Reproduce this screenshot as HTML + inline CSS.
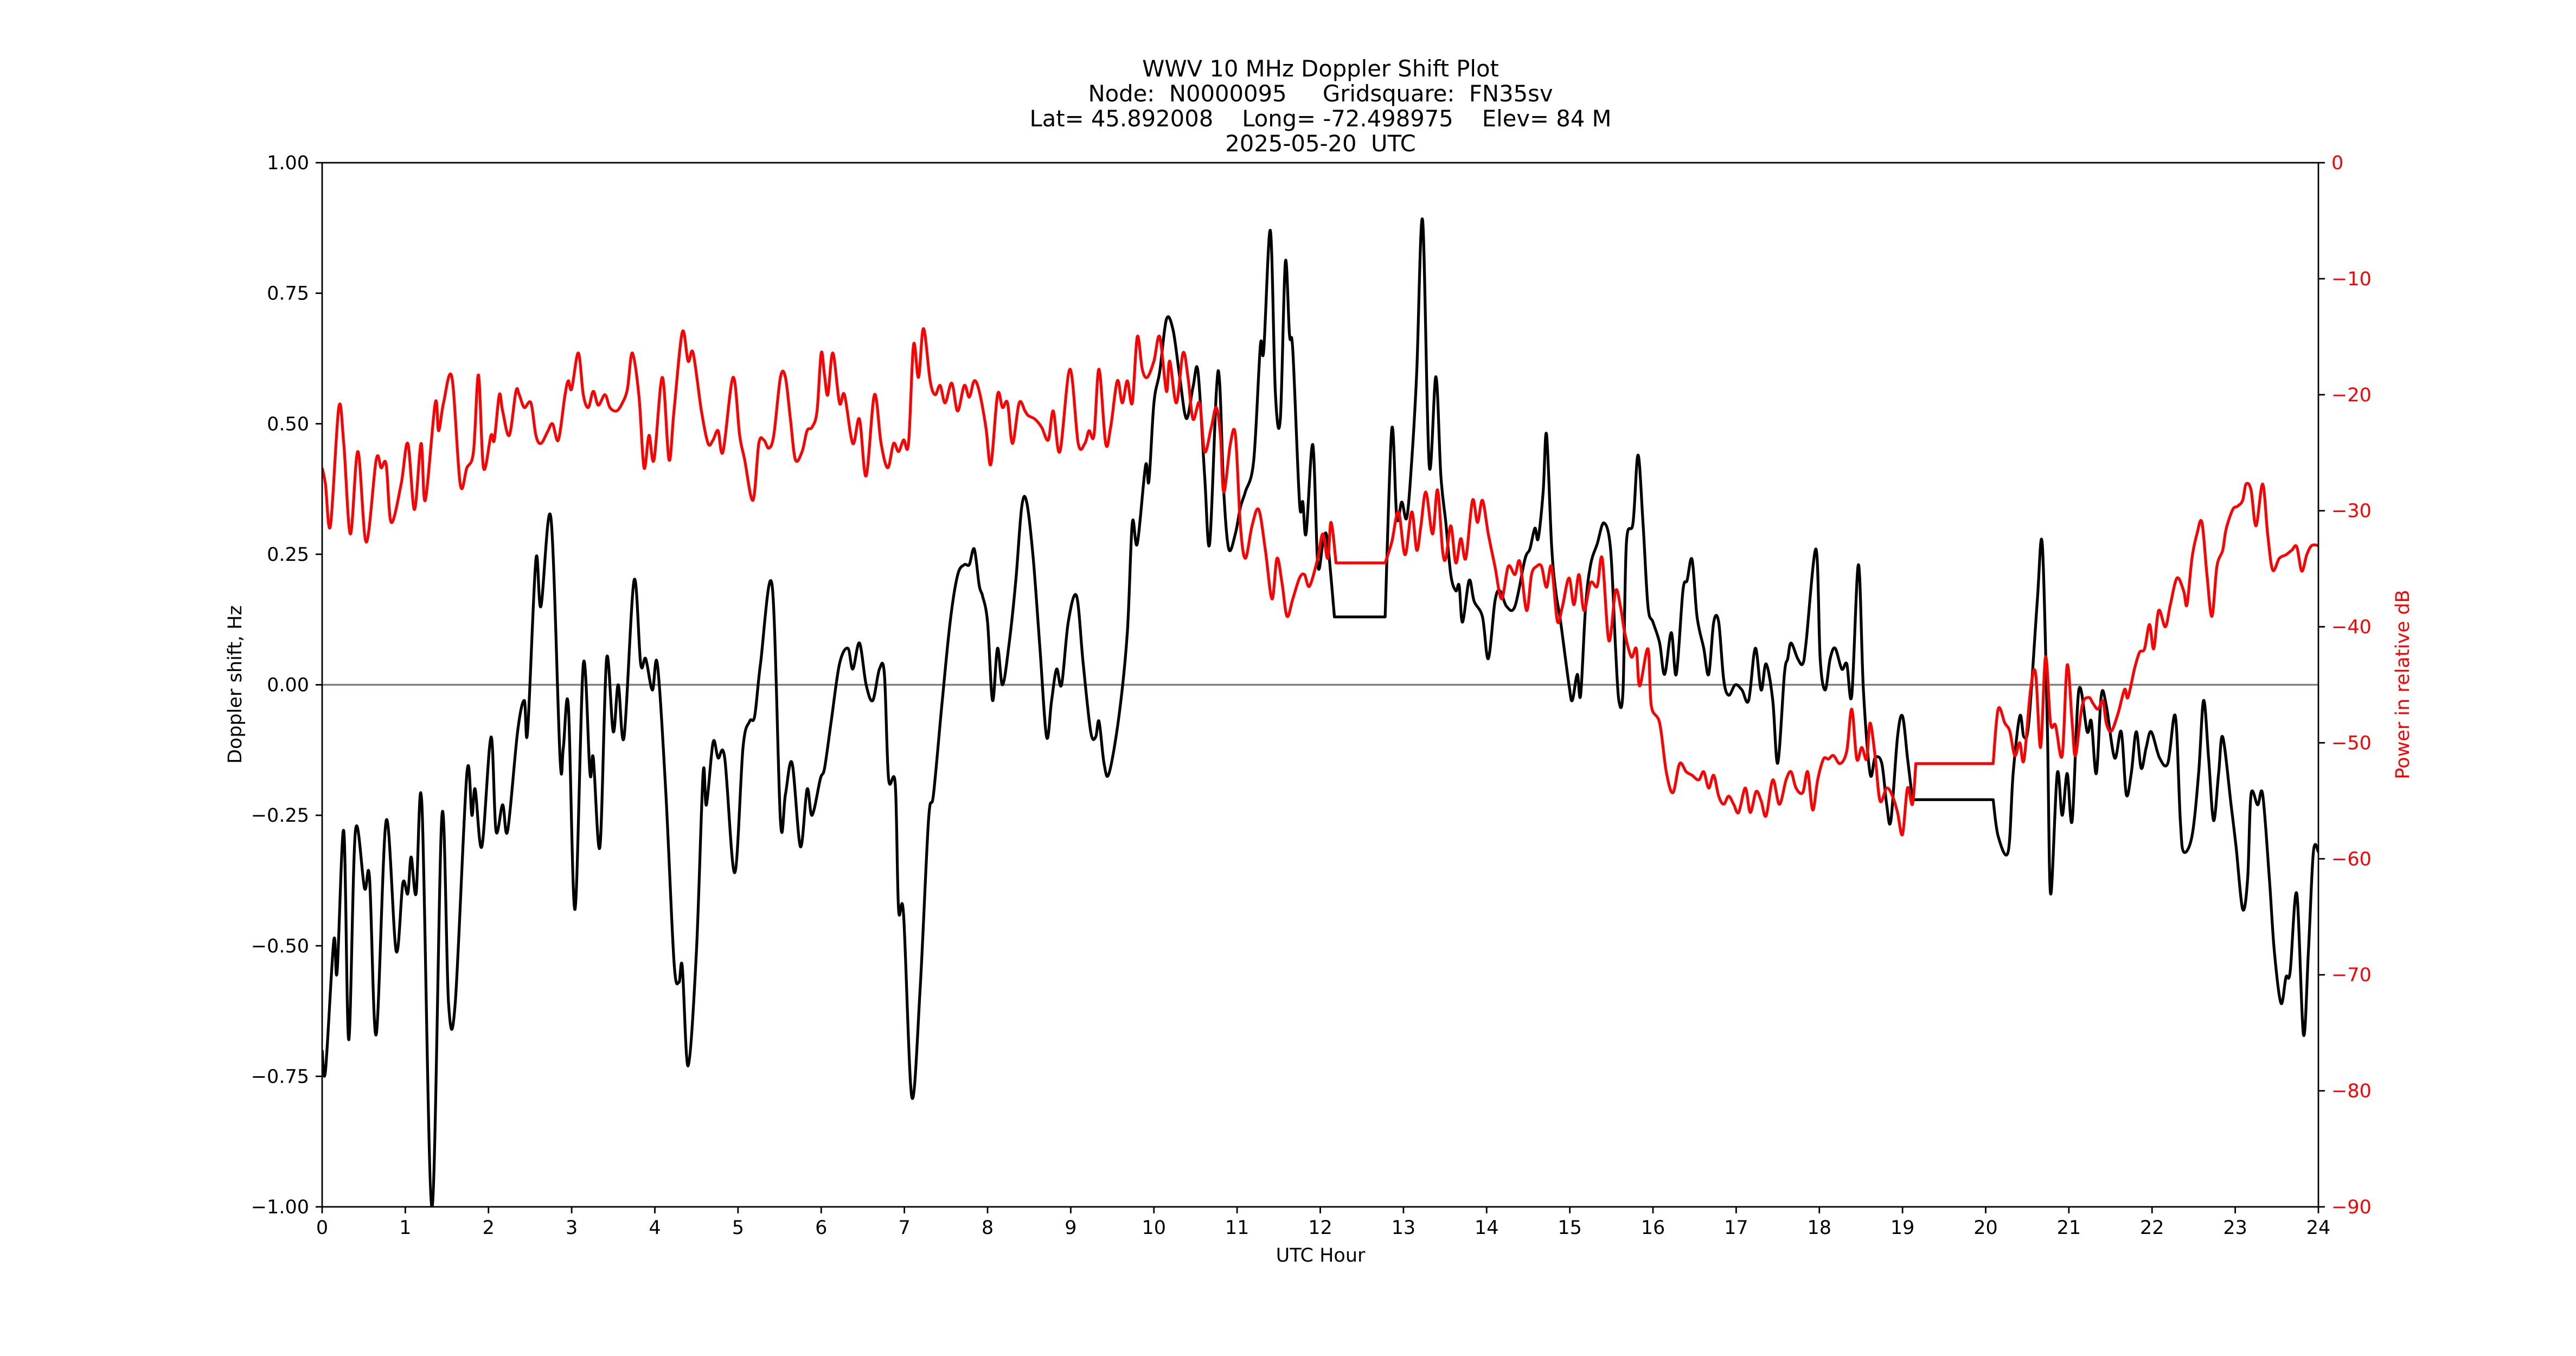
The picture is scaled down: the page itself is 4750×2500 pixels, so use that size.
<!DOCTYPE html>
<html><head><meta charset="utf-8"><style>
html,body{margin:0;padding:0;background:#fff;}
svg{display:block;font-family:"DejaVu Sans","Liberation Sans",sans-serif;}
</style></head><body>
<svg id="chart" xmlns="http://www.w3.org/2000/svg" width="4750" height="2500" viewBox="0 0 4750 2500">
<rect width="4750" height="2500" fill="#fff"/>
<g font-size="41.7" text-anchor="middle" style="white-space:pre">
<text x="2435" y="141">WWV 10 MHz Doppler Shift Plot</text>
<text x="2435" y="187" xml:space="preserve">Node:  N0000095     Gridsquare:  FN35sv</text>
<text x="2435" y="233" xml:space="preserve">Lat= 45.892008    Long= -72.498975    Elev= 84 M</text>
<text x="2435" y="279" xml:space="preserve">2025-05-20  UTC</text>
</g>
<defs><clipPath id="clip"><rect x="594" y="300" width="3681" height="1925"/></clipPath></defs>
<g id="zero"></g>
<g id="plot" clip-path="url(#clip)"></g>
<g id="axes"></g>
<text x="2435" y="2326" font-size="35" text-anchor="middle">UTC Hour</text>
<text transform="translate(445,1262) rotate(-90)" font-size="35" text-anchor="middle">Doppler shift, Hz</text>
<text transform="translate(4442,1262) rotate(-90)" font-size="35" text-anchor="middle" fill="#ff0000">Power in relative dB</text>
</svg>
<script>
const dopHours=[0.00,0.04,0.14,0.18,0.26,0.32,0.40,0.51,0.57,0.65,0.77,0.89,0.97,1.03,1.07,1.13,1.20,1.32,1.44,1.52,1.60,1.74,1.80,1.84,1.92,2.03,2.09,2.17,2.23,2.35,2.43,2.47,2.57,2.63,2.75,2.86,2.90,2.96,3.04,3.14,3.22,3.26,3.34,3.42,3.50,3.56,3.63,3.75,3.83,3.89,3.97,4.03,4.13,4.23,4.29,4.33,4.40,4.50,4.58,4.62,4.70,4.76,4.84,4.96,5.06,5.14,5.20,5.27,5.41,5.51,5.57,5.65,5.75,5.83,5.89,5.99,6.04,6.12,6.22,6.32,6.38,6.46,6.54,6.62,6.70,6.76,6.81,6.89,6.93,6.99,7.09,7.19,7.29,7.35,7.45,7.55,7.64,7.72,7.78,7.84,7.90,7.94,8.00,8.06,8.12,8.18,8.26,8.34,8.41,8.47,8.55,8.63,8.71,8.77,8.83,8.89,8.97,9.07,9.15,9.24,9.30,9.34,9.40,9.46,9.58,9.68,9.74,9.80,9.90,9.94,10.00,10.07,10.15,10.23,10.31,10.39,10.47,10.53,10.61,10.67,10.75,10.79,10.84,10.90,10.98,11.04,11.10,11.20,11.28,11.32,11.40,11.46,11.52,11.58,11.63,11.67,11.75,11.79,11.83,11.91,11.97,12.03,12.07,12.11,12.17,12.78,12.86,12.92,12.98,13.04,13.10,13.16,13.23,13.31,13.39,13.45,13.51,13.57,13.63,13.67,13.71,13.79,13.85,13.95,14.02,14.10,14.16,14.24,14.34,14.46,14.52,14.58,14.62,14.68,14.72,14.78,14.83,14.89,14.99,15.03,15.09,15.13,15.19,15.25,15.33,15.41,15.49,15.55,15.59,15.64,15.68,15.76,15.82,15.88,15.94,16.00,16.08,16.14,16.22,16.28,16.36,16.41,16.47,16.53,16.61,16.67,16.73,16.79,16.85,16.91,16.99,17.07,17.15,17.23,17.30,17.36,17.44,17.50,17.58,17.62,17.66,17.74,17.80,17.84,17.96,18.01,18.07,18.13,18.19,18.27,18.33,18.39,18.47,18.53,18.61,18.67,18.75,18.81,18.86,18.94,19.00,19.06,19.12,20.09,20.15,20.27,20.33,20.41,20.46,20.52,20.62,20.68,20.74,20.78,20.86,20.92,20.98,21.04,21.12,21.22,21.27,21.33,21.39,21.45,21.55,21.63,21.69,21.75,21.81,21.87,21.93,21.99,22.09,22.19,22.28,22.34,22.38,22.48,22.56,22.62,22.68,22.74,22.80,22.85,22.95,23.01,23.09,23.15,23.19,23.27,23.33,23.41,23.47,23.55,23.61,23.66,23.74,23.82,23.88,23.94,24.00];
const dopValues=[-0.70,-0.74,-0.49,-0.55,-0.28,-0.68,-0.28,-0.39,-0.37,-0.67,-0.26,-0.51,-0.38,-0.40,-0.33,-0.40,-0.23,-1.00,-0.25,-0.61,-0.61,-0.17,-0.25,-0.20,-0.31,-0.10,-0.28,-0.23,-0.28,-0.09,-0.03,-0.09,0.24,0.15,0.32,-0.14,-0.12,-0.04,-0.43,0.04,-0.17,-0.14,-0.31,0.05,-0.09,0.00,-0.10,0.20,0.04,0.05,-0.01,0.04,-0.20,-0.53,-0.57,-0.54,-0.73,-0.51,-0.17,-0.23,-0.11,-0.14,-0.14,-0.36,-0.12,-0.07,-0.06,0.04,0.19,-0.26,-0.21,-0.15,-0.31,-0.20,-0.25,-0.18,-0.16,-0.07,0.04,0.07,0.03,0.08,0.00,-0.03,0.03,0.02,-0.18,-0.19,-0.43,-0.44,-0.79,-0.58,-0.26,-0.21,-0.04,0.12,0.21,0.23,0.23,0.26,0.19,0.17,0.12,-0.03,0.07,0.00,0.08,0.20,0.34,0.35,0.24,0.07,-0.10,-0.03,0.03,0.00,0.12,0.17,0.04,-0.09,-0.10,-0.07,-0.15,-0.17,-0.06,0.10,0.31,0.27,0.42,0.39,0.54,0.60,0.70,0.68,0.59,0.51,0.57,0.60,0.40,0.27,0.56,0.58,0.37,0.26,0.29,0.34,0.37,0.43,0.65,0.64,0.87,0.56,0.51,0.81,0.67,0.64,0.35,0.35,0.29,0.46,0.23,0.27,0.29,0.24,0.13,0.13,0.49,0.32,0.35,0.32,0.43,0.60,0.89,0.42,0.59,0.40,0.31,0.21,0.18,0.19,0.12,0.20,0.16,0.13,0.05,0.16,0.18,0.15,0.15,0.24,0.26,0.30,0.28,0.37,0.48,0.27,0.18,0.12,0.00,-0.03,0.02,-0.02,0.15,0.23,0.27,0.31,0.26,0.07,-0.03,-0.01,0.27,0.31,0.44,0.31,0.15,0.12,0.08,0.02,0.10,0.02,0.18,0.20,0.24,0.13,0.07,0.02,0.12,0.12,0.01,-0.02,0.00,-0.01,-0.03,0.07,-0.01,0.04,-0.03,-0.15,0.02,0.05,0.08,0.05,0.04,0.08,0.26,0.05,-0.01,0.05,0.07,0.03,0.04,-0.02,0.23,-0.01,-0.17,-0.14,-0.15,-0.23,-0.26,-0.10,-0.06,-0.14,-0.22,-0.22,-0.29,-0.32,-0.17,-0.06,-0.10,-0.07,0.16,0.27,-0.07,-0.40,-0.17,-0.25,-0.17,-0.26,-0.01,-0.09,-0.07,-0.17,-0.02,-0.04,-0.14,-0.09,-0.21,-0.17,-0.09,-0.16,-0.12,-0.09,-0.14,-0.15,-0.06,-0.26,-0.32,-0.29,-0.17,-0.03,-0.14,-0.26,-0.17,-0.10,-0.23,-0.31,-0.43,-0.37,-0.21,-0.23,-0.21,-0.37,-0.51,-0.61,-0.56,-0.55,-0.40,-0.67,-0.51,-0.32,-0.32];
const pwrHours=[0.00,0.04,0.10,0.20,0.26,0.34,0.43,0.53,0.65,0.71,0.77,0.83,0.95,1.03,1.11,1.19,1.24,1.36,1.40,1.46,1.56,1.66,1.74,1.82,1.88,1.94,2.03,2.07,2.13,2.17,2.25,2.33,2.37,2.43,2.51,2.57,2.63,2.71,2.77,2.84,2.92,2.96,3.00,3.08,3.14,3.20,3.26,3.32,3.40,3.46,3.54,3.61,3.67,3.73,3.81,3.87,3.93,3.99,4.09,4.17,4.23,4.33,4.40,4.46,4.56,4.64,4.70,4.76,4.82,4.94,5.02,5.08,5.18,5.25,5.31,5.37,5.43,5.51,5.57,5.63,5.69,5.77,5.83,5.89,5.95,6.00,6.04,6.08,6.14,6.22,6.28,6.38,6.46,6.54,6.64,6.72,6.80,6.87,6.93,6.99,7.05,7.11,7.17,7.23,7.31,7.37,7.43,7.49,7.57,7.64,7.72,7.78,7.84,7.90,7.98,8.04,8.12,8.18,8.24,8.30,8.38,8.45,8.49,8.57,8.65,8.73,8.79,8.87,8.99,9.09,9.17,9.22,9.28,9.34,9.42,9.48,9.56,9.62,9.68,9.74,9.80,9.86,9.92,10.00,10.07,10.15,10.19,10.27,10.35,10.41,10.47,10.55,10.61,10.69,10.75,10.80,10.84,10.92,10.98,11.04,11.10,11.18,11.26,11.34,11.42,11.48,11.54,11.60,11.67,11.75,11.81,11.87,11.97,12.03,12.09,12.13,12.19,12.78,12.86,12.94,13.02,13.10,13.16,13.21,13.27,13.35,13.41,13.47,13.51,13.57,13.63,13.69,13.75,13.83,13.89,13.95,14.02,14.10,14.18,14.26,14.34,14.40,14.48,14.54,14.60,14.66,14.72,14.78,14.85,14.91,14.99,15.05,15.11,15.17,15.25,15.33,15.39,15.47,15.55,15.61,15.66,15.74,15.80,15.84,15.94,15.98,16.08,16.16,16.24,16.32,16.40,16.47,16.55,16.61,16.67,16.73,16.79,16.85,16.91,16.97,17.03,17.11,17.17,17.24,17.30,17.36,17.44,17.52,17.60,17.66,17.72,17.80,17.86,17.92,17.98,18.05,18.11,18.17,18.25,18.33,18.39,18.45,18.51,18.57,18.61,18.67,18.73,18.81,18.88,18.94,19.00,19.06,19.12,19.16,20.09,20.15,20.23,20.29,20.35,20.41,20.46,20.54,20.60,20.66,20.72,20.78,20.84,20.92,20.98,21.04,21.08,21.16,21.24,21.29,21.35,21.41,21.45,21.51,21.59,21.67,21.71,21.79,21.85,21.91,21.97,22.02,22.08,22.16,22.22,22.30,22.38,22.42,22.48,22.54,22.60,22.66,22.72,22.78,22.85,22.89,22.97,23.03,23.09,23.13,23.19,23.25,23.33,23.39,23.45,23.53,23.61,23.68,23.74,23.80,23.86,23.92,24.00];
const pwrValues=[-26.3,-27.7,-31.3,-21.1,-24.2,-32.0,-24.9,-32.7,-25.6,-26.3,-26.0,-31.0,-27.7,-24.2,-29.9,-24.2,-29.1,-20.7,-23.1,-20.7,-18.5,-27.7,-26.3,-24.9,-18.3,-26.3,-23.5,-23.9,-20.0,-21.4,-23.5,-19.7,-20.0,-21.1,-20.7,-23.5,-24.2,-23.2,-22.5,-23.9,-20.0,-18.8,-19.5,-16.4,-20.0,-21.1,-19.7,-20.9,-20.0,-21.1,-21.4,-20.7,-19.5,-16.4,-20.2,-26.3,-23.5,-25.6,-18.5,-25.6,-21.4,-14.6,-17.1,-16.4,-21.4,-24.2,-23.9,-23.1,-24.9,-18.5,-23.5,-25.6,-29.1,-24.2,-23.9,-24.6,-23.5,-18.5,-18.5,-22.1,-25.6,-24.9,-23.1,-22.8,-21.4,-16.4,-18.3,-20.0,-16.4,-20.7,-20.0,-24.2,-22.1,-27.0,-20.0,-24.2,-26.3,-24.2,-24.9,-23.9,-24.2,-15.7,-18.5,-14.3,-18.8,-20.0,-19.2,-20.7,-19.0,-21.4,-19.2,-20.2,-18.8,-19.7,-22.8,-26.0,-20.0,-21.1,-20.7,-24.2,-20.7,-21.4,-21.8,-22.1,-22.8,-23.9,-21.4,-24.9,-17.8,-24.2,-24.2,-23.1,-23.5,-17.8,-24.2,-22.8,-18.8,-20.7,-18.8,-20.7,-15.0,-17.8,-18.5,-17.1,-15.0,-19.7,-17.1,-20.7,-16.4,-18.5,-22.1,-20.7,-24.9,-22.8,-21.1,-23.5,-28.4,-24.2,-23.5,-31.3,-34.1,-31.3,-29.9,-33.4,-37.6,-34.1,-36.2,-39.1,-37.6,-35.8,-35.5,-36.5,-34.1,-32.0,-34.1,-31.0,-34.5,-34.5,-32.7,-30.1,-33.8,-30.1,-33.4,-31.3,-28.4,-32.0,-28.2,-33.4,-34.1,-31.3,-34.5,-32.4,-34.1,-29.1,-31.0,-29.1,-32.0,-34.8,-37.6,-34.8,-35.5,-34.4,-38.6,-35.5,-34.8,-34.8,-36.6,-34.8,-39.5,-38.3,-35.8,-38.1,-35.5,-38.6,-36.2,-36.5,-34.1,-41.2,-36.9,-38.3,-40.5,-42.6,-41.9,-45.1,-41.9,-46.8,-48.3,-52.5,-54.3,-51.8,-52.5,-52.8,-53.2,-52.5,-53.9,-52.8,-54.6,-55.3,-54.6,-55.3,-56.0,-53.9,-56.0,-54.2,-55.0,-56.3,-53.2,-55.3,-53.2,-52.5,-53.9,-54.3,-52.5,-55.8,-53.2,-51.4,-51.4,-51.1,-51.8,-50.7,-47.1,-51.4,-50.4,-51.4,-48.3,-51.1,-55.0,-53.9,-54.6,-56.0,-57.9,-53.9,-55.3,-51.8,-51.8,-47.1,-48.3,-49.0,-51.1,-50.0,-51.5,-45.4,-44.0,-50.4,-42.6,-48.3,-48.5,-51.1,-43.3,-48.3,-51.1,-46.8,-46.1,-46.6,-47.1,-46.4,-48.3,-49.0,-47.5,-45.4,-46.1,-43.6,-42.2,-41.9,-39.8,-41.9,-38.6,-40.0,-38.1,-35.8,-36.9,-38.1,-34.1,-32.0,-31.0,-35.5,-39.1,-34.8,-33.4,-31.6,-29.9,-29.6,-29.1,-27.7,-28.2,-31.3,-27.7,-32.0,-35.1,-34.1,-33.8,-33.4,-33.1,-35.2,-33.8,-33.0,-33.0];
const xTickLabels=["0","1","2","3","4","5","6","7","8","9","10","11","12","13","14","15","16","17","18","19","20","21","22","23","24"];
const yTickLabels=["\u22121.00","\u22120.75","\u22120.50","\u22120.25","0.00","0.25","0.50","0.75","1.00"];
const y2TickLabels=["0","\u221210","\u221220","\u221230","\u221240","\u221250","\u221260","\u221270","\u221280","\u221290"];

const L=594,R=4275,T=300,B=2225,NS="http://www.w3.org/2000/svg";
const GAP=(R-L)*0.3/24;
const xs=h=>L+(h/24)*(R-L);
const yl=v=>B-(v+1)/2*(B-T);
const yr=v=>T+(-v/90)*(B-T);
function mk(tag,attrs,parent){const e=document.createElementNS(NS,tag);for(const k in attrs)e.setAttribute(k,attrs[k]);parent.appendChild(e);return e;}
function smooth(pts){
  const n=pts.length;
  const long=i=>i>=0&&i<n-1&&(pts[i+1][0]-pts[i][0])>GAP;
  let d="M"+pts[0][0].toFixed(1)+","+pts[0][1].toFixed(1);
  for(let i=0;i<n-1;i++){
    const p1=pts[i],p2=pts[i+1];
    if(long(i)){d+="L"+p2[0].toFixed(1)+","+p2[1].toFixed(1);continue;}
    const p0=(i>0&&!long(i-1))?pts[i-1]:p1;
    const p3=(i+2<n&&!long(i+1))?pts[i+2]:p2;
    const c1x=p1[0]+(p2[0]-p0[0])/6,c1y=p1[1]+(p2[1]-p0[1])/6;
    const c2x=p2[0]-(p3[0]-p1[0])/6,c2y=p2[1]-(p3[1]-p1[1])/6;
    d+="C"+c1x.toFixed(1)+","+c1y.toFixed(1)+" "+c2x.toFixed(1)+","+c2y.toFixed(1)+" "+p2[0].toFixed(1)+","+p2[1].toFixed(1);
  }
  return d;
}
const plot=document.getElementById('plot'),axes=document.getElementById('axes'),zero=document.getElementById('zero');
const zl=mk('line',{x1:L,x2:R,y1:yl(0),y2:yl(0),stroke:'#808080','stroke-width':3.5},zero);


const dp=mk('path',{d:smooth(dopHours.map((h,i)=>[xs(h),yl(dopValues[i])])),fill:'none',stroke:'#000','stroke-width':5.2,'stroke-linejoin':'round'},plot);


const pp=mk('path',{d:smooth(pwrHours.map((h,i)=>[xs(h),yr(pwrValues[i])])),fill:'none',stroke:'#ff0000','stroke-width':5.2,'stroke-linejoin':'round'},plot);


const fr=mk('rect',{x:L,y:T,width:R-L,height:B-T,fill:'none',stroke:'#000','stroke-width':2.8},axes);


xTickLabels.forEach((t,i)=>{
  const x=xs(i*24/(xTickLabels.length-1));
  const tk=mk('line',{x1:x,x2:x,y1:B,y2:B+12,stroke:'#000','stroke-width':2.8},axes);
  
  
  const tx=mk('text',{x:x,y:B+50,'font-size':35,'text-anchor':'middle'},axes);
  tx.textContent=t;
  
  
});
yTickLabels.forEach((t,i)=>{
  const y=yl(-1+i*2/(yTickLabels.length-1));
  const tk=mk('line',{x1:L-12,x2:L,y1:y,y2:y,stroke:'#000','stroke-width':2.8},axes);
  
  
  const tx=mk('text',{x:L-24,y:y+12,'font-size':35,'text-anchor':'end'},axes);
  tx.textContent=t;
  
  
});
y2TickLabels.forEach((t,i)=>{
  const y=yr(-i*90/(y2TickLabels.length-1));
  const tk=mk('line',{x1:R,x2:R+12,y1:y,y2:y,stroke:'#000','stroke-width':2.8},axes);
  
  
  const tx=mk('text',{x:R+24,y:y+12,'font-size':35,'text-anchor':'start',fill:'#ff0000'},axes);
  tx.textContent=t;
  
  
});
</script>
</body></html>
